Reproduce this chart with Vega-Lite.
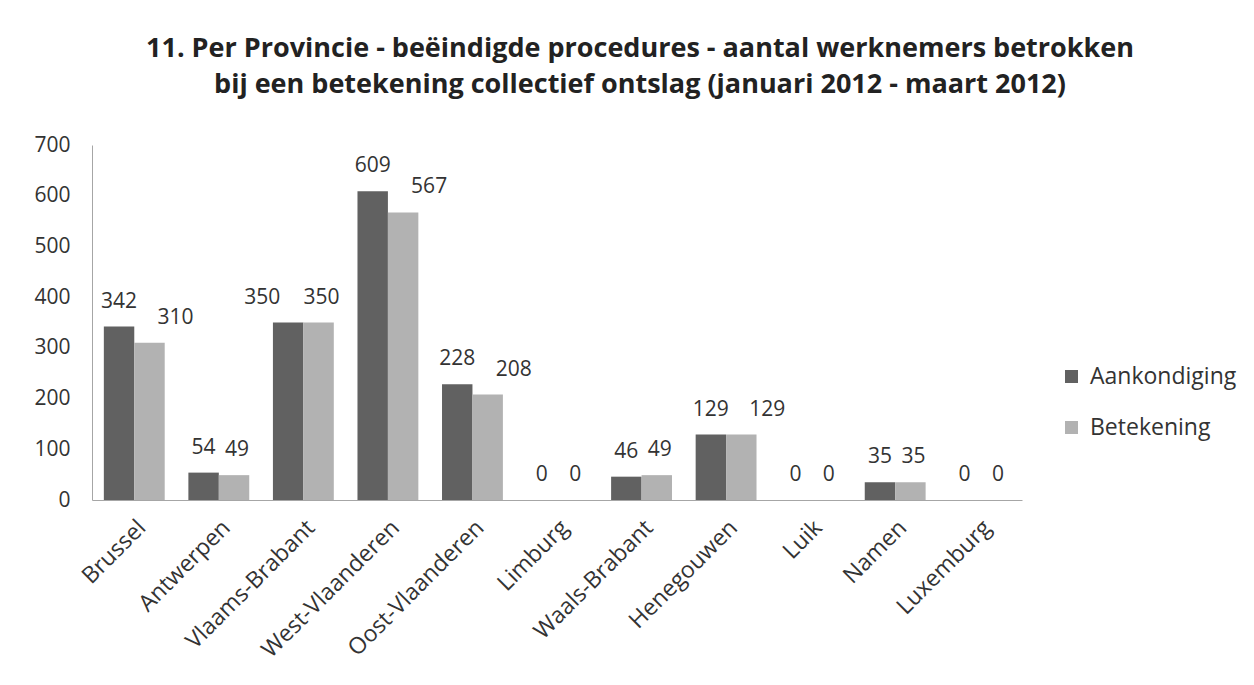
{
  "$schema": "https://vega.github.io/schema/vega-lite/v6.json",
  "autosize": "none",
  "width": 930,
  "height": 355,
  "padding": {"left": 92, "top": 145, "right": 232, "bottom": 185},
  "background": "white",
  "config": {
    "font": "Open Sans",
    "view": {"stroke": null},
    "axis": {"labelFont": "Open Sans", "labelColor": "#333333", "labelFontSize": 21, "domainColor": "#a6a6a6", "ticks": false, "grid": false, "title": null},
    "legend": {"labelFont": "Open Sans", "labelColor": "#333333", "labelFontSize": 23}
  },
  "title": {
    "text": ["11. Per Provincie - beëindigde procedures - aantal werknemers betrokken", "bij een betekening collectief ontslag (januari 2012 - maart 2012)"],
    "fontSize": 27,
    "fontWeight": "bold",
    "color": "#222222",
    "anchor": "middle",
    "dx": 83,
    "offset": 35,
    "lineHeight": 36
  },
  "data": {"values": [
    {"provincie": "Brussel", "reeks": "Aankondiging", "waarde": 342},
    {"provincie": "Brussel", "reeks": "Betekening", "waarde": 310},
    {"provincie": "Antwerpen", "reeks": "Aankondiging", "waarde": 54},
    {"provincie": "Antwerpen", "reeks": "Betekening", "waarde": 49},
    {"provincie": "Vlaams-Brabant", "reeks": "Aankondiging", "waarde": 350},
    {"provincie": "Vlaams-Brabant", "reeks": "Betekening", "waarde": 350},
    {"provincie": "West-Vlaanderen", "reeks": "Aankondiging", "waarde": 609},
    {"provincie": "West-Vlaanderen", "reeks": "Betekening", "waarde": 567},
    {"provincie": "Oost-Vlaanderen", "reeks": "Aankondiging", "waarde": 228},
    {"provincie": "Oost-Vlaanderen", "reeks": "Betekening", "waarde": 208},
    {"provincie": "Limburg", "reeks": "Aankondiging", "waarde": 0},
    {"provincie": "Limburg", "reeks": "Betekening", "waarde": 0},
    {"provincie": "Waals-Brabant", "reeks": "Aankondiging", "waarde": 46},
    {"provincie": "Waals-Brabant", "reeks": "Betekening", "waarde": 49},
    {"provincie": "Henegouwen", "reeks": "Aankondiging", "waarde": 129},
    {"provincie": "Henegouwen", "reeks": "Betekening", "waarde": 129},
    {"provincie": "Luik", "reeks": "Aankondiging", "waarde": 0},
    {"provincie": "Luik", "reeks": "Betekening", "waarde": 0},
    {"provincie": "Namen", "reeks": "Aankondiging", "waarde": 35},
    {"provincie": "Namen", "reeks": "Betekening", "waarde": 35},
    {"provincie": "Luxemburg", "reeks": "Aankondiging", "waarde": 0},
    {"provincie": "Luxemburg", "reeks": "Betekening", "waarde": 0}
  ]},
  "encoding": {
    "x": {
      "field": "provincie", "type": "nominal", "sort": null,
      "scale": {"paddingInner": 0.28, "paddingOuter": 0.14},
      "axis": {"labelAngle": -45, "labelPadding": 16, "labelFontSize": 23, "labelLimit": 400}
    },
    "xOffset": {"field": "reeks", "type": "nominal", "sort": ["Aankondiging", "Betekening"]},
    "y": {
      "field": "waarde", "type": "quantitative",
      "scale": {"domain": [0, 700], "nice": false},
      "axis": {"values": [0, 100, 200, 300, 400, 500, 600, 700], "labelPadding": 22, "domain": true}
    }
  },
  "layer": [
    {
      "mark": {"type": "bar"},
      "encoding": {
        "color": {
          "field": "reeks", "type": "nominal",
          "scale": {"domain": ["Aankondiging", "Betekening"], "range": ["#616161", "#b2b2b2"]},
          "legend": {"title": null, "orient": "none", "legendX": 968, "legendY": 220, "symbolType": "square", "symbolSize": 170, "symbolStrokeWidth": 0, "rowPadding": 27, "labelOffset": 7}
        }
      }
    },
    {
      "transform": [{"filter": "datum.reeks === 'Aankondiging' && datum.provincie !== 'Vlaams-Brabant'"}],
      "mark": {"type": "text", "baseline": "alphabetic", "dy": -19, "fontSize": 21, "color": "#333333", "font": "Open Sans"},
      "encoding": {"text": {"field": "waarde", "type": "quantitative"}}
    },
    {
      "transform": [{"filter": "datum.reeks === 'Aankondiging' && datum.provincie === 'Vlaams-Brabant'"}],
      "mark": {"type": "text", "baseline": "alphabetic", "dy": -19, "dx": -26, "fontSize": 21, "color": "#333333", "font": "Open Sans"},
      "encoding": {"text": {"field": "waarde", "type": "quantitative"}}
    },
    {
      "transform": [{"filter": "datum.reeks === 'Betekening' && datum.waarde >= 100 && datum.provincie !== 'Vlaams-Brabant'"}],
      "mark": {"type": "text", "baseline": "alphabetic", "dy": -19, "dx": 26, "fontSize": 21, "color": "#333333", "font": "Open Sans"},
      "encoding": {"text": {"field": "waarde", "type": "quantitative"}}
    },
    {
      "transform": [{"filter": "datum.reeks === 'Betekening' && (datum.waarde < 100 || datum.provincie === 'Vlaams-Brabant')"}],
      "mark": {"type": "text", "baseline": "alphabetic", "dy": -19, "dx": 3, "fontSize": 21, "color": "#333333", "font": "Open Sans"},
      "encoding": {"text": {"field": "waarde", "type": "quantitative"}}
    }
  ]
}
